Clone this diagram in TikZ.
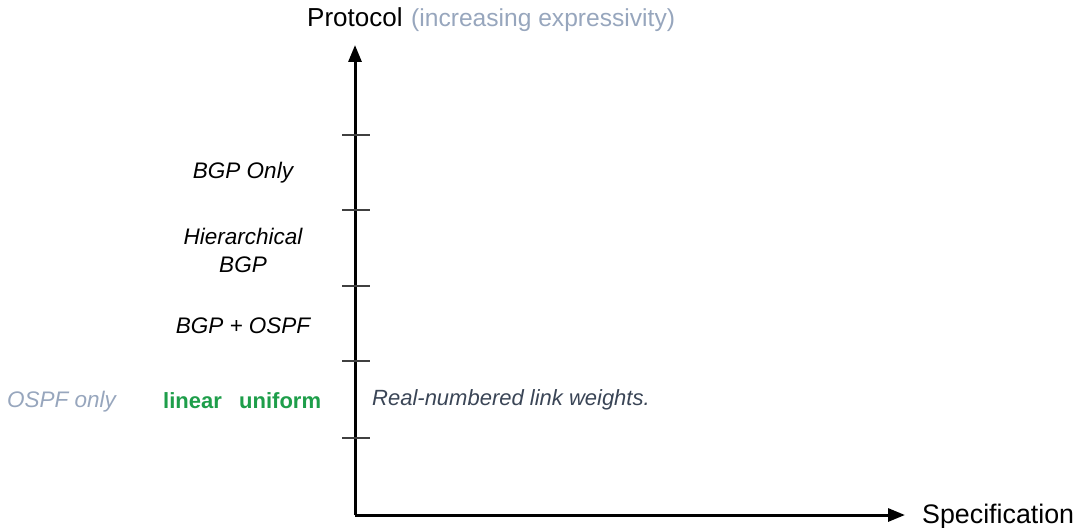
\documentclass[tikz,border=0pt]{standalone}
\usepackage{fontspec}
\setmainfont{Liberation Sans}
\usetikzlibrary{arrows.meta}
\definecolor{lightslate}{HTML}{97A6BD}
\definecolor{darkslate}{HTML}{3A4556}
\definecolor{okgreen}{HTML}{1E9E4A}
\tikzset{
  axis/.style={line width=3pt,-{Triangle[length=17pt,width=13pt]}},
  tick/.style={line width=1.3pt,draw=black!75},
  axlabel/.style={font=\fontsize{26}{30}\selectfont,inner sep=0pt},
  cat/.style={font=\fontsize{22.5}{28}\selectfont\itshape,inner sep=0pt,align=center},
  spec/.style={font=\fontsize{22}{28}\selectfont\bfseries,text=okgreen,inner sep=0pt},
}
\begin{document}
\begin{tikzpicture}[x=1pt,y=-1pt]
\useasboundingbox (0,0) rectangle (1078,527);
\coordinate (o) at (355,515);
\coordinate (top) at (355,45);
\coordinate (right) at (905,515);
\draw[axis] (o) -- (top);
\draw[axis] (o) -- (right);
\foreach \y/\n in {135/t1,210/t2,286/t3,361/t4,438/t5}{
  \coordinate (\n a) at (342,\y);
  \coordinate (\n b) at (370,\y);
  \draw[tick] (\n a) -- (\n b);
}
\node[axlabel,anchor=base west] (prot) at (307,27) {Protocol};
\node[axlabel,anchor=base west,text=lightslate,font=\fontsize{24.6}{30}\selectfont] (expr) at (411,27) {(increasing expressivity)};
\node[axlabel,anchor=base west,font=\fontsize{26.8}{30}\selectfont] (specn) at (922,523) {Specification};
\node[cat] (bgponly) at (243,173) {BGP Only};
\node[cat] (hier) at (243,250) {Hierarchical\\BGP};
\node[cat] (bgpospf) at (243,326) {BGP + OSPF};
\node[cat,text=lightslate,anchor=base west] (ospf) at (7,407) {OSPF only};
\node[spec,anchor=base west] (lin) at (163,408) {linear};
\node[spec,anchor=base west] (uni) at (239,408) {uniform};
\node[cat,text=darkslate,anchor=base west,font=\fontsize{22}{28}\selectfont\itshape] (real) at (372,405) {Real-numbered link weights.};
\end{tikzpicture}
\end{document}
